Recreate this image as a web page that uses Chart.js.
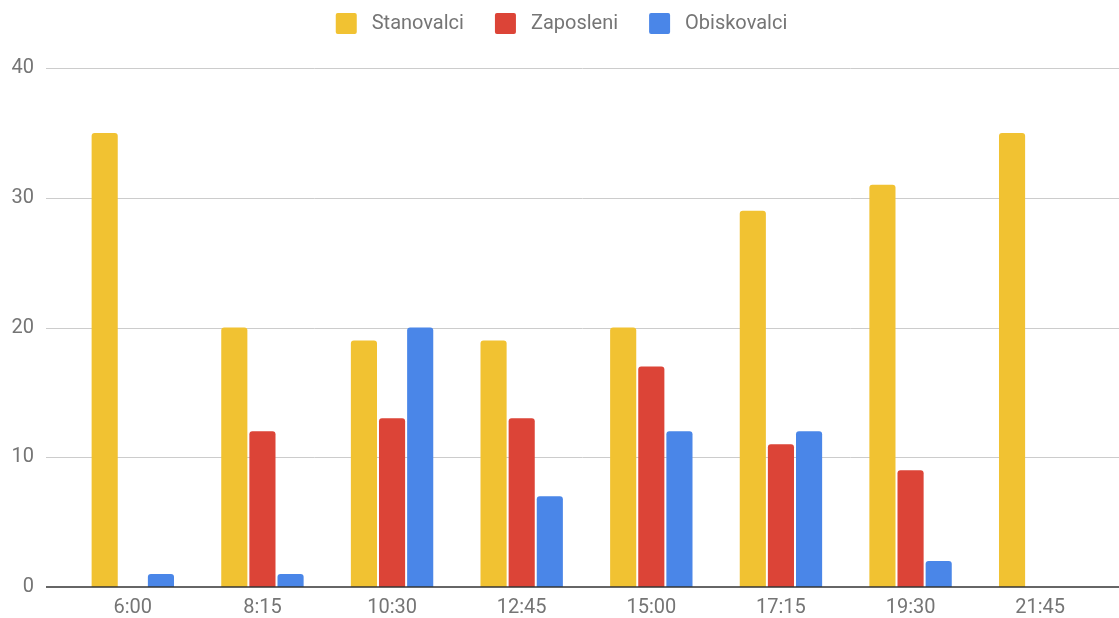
<!DOCTYPE html>
<html>
<head>
<meta charset="utf-8">
<script src="https://cdn.jsdelivr.net/npm/chart.js@4.4.1/dist/chart.umd.min.js"></script>
<style>
  html, body { margin: 0; padding: 0; background: #fff; }
  #wrap { width: 1119px; height: 618px; position: relative; }
</style>
</head>
<body>
<div id="wrap"><canvas id="c" width="1119" height="618"></canvas></div>
<script>
const categories = ['6:00', '8:15', '10:30', '12:45', '15:00', '17:15', '19:30', '21:45'];
const stanovalci = [35, 20, 19, 19, 20, 29, 31, 35];
const zaposleni = [0, 12, 13, 13, 17, 11, 9, 0];
const obiskovalci = [1, 1, 20, 7, 12, 12, 2, 0];
const yTicks = [0, 10, 20, 30, 40];

const FONT = 'Roboto, "Noto Sans", sans-serif';
const TXT = '#757575';

const gridPlugin = {
  id: 'extGrid',
  beforeDatasetsDraw(chart) {
    const ctx = chart.ctx, y = chart.scales.y;
    ctx.save();
    ctx.strokeStyle = '#cccccc';
    ctx.lineWidth = 1;
    yTicks.forEach(v => {
      if (v === 0) return;
      const py = Math.round(y.getPixelForValue(v)) + 0.5;
      ctx.beginPath(); ctx.moveTo(46, py); ctx.lineTo(chart.width, py); ctx.stroke();
    });
    ctx.restore();
  },
  afterDatasetsDraw(chart) {
    const ctx = chart.ctx, y = chart.scales.y;
    ctx.save();
    ctx.strokeStyle = '#333333';
    ctx.lineWidth = 1.5;
    const py = y.getPixelForValue(0);
    ctx.beginPath(); ctx.moveTo(46, py); ctx.lineTo(chart.width, py); ctx.stroke();
    ctx.restore();
  },
  afterInit(chart) {
    const lg = chart.legend;
    if (lg) {
      const f = lg.fit.bind(lg);
      lg.fit = function () { f(); this.height = 68; };
      const d = lg.draw.bind(lg);
      lg.draw = function () {
        const ctx = chart.ctx;
        ctx.save(); ctx.translate(9, -18); d(); ctx.restore();
      };
    }
  }
};

new Chart(document.getElementById('c'), {
  type: 'bar',
  data: {
    labels: categories,
    datasets: [
      { label: 'Stanovalci', data: stanovalci, backgroundColor: '#f1c232' },
      { label: 'Zaposleni', data: zaposleni, backgroundColor: '#dc4437' },
      { label: 'Obiskovalci', data: obiskovalci, backgroundColor: '#4a86e8' }
    ]
  },
  options: {
    responsive: false,
    animation: false,
    devicePixelRatio: 1,
    layout: { padding: { left: 0, right: 14, top: 0, bottom: 0 } },
    datasets: {
      bar: { categoryPercentage: 0.651, barPercentage: 0.929, borderRadius: 3, borderSkipped: 'start' }
    },
    plugins: {
      tooltip: { enabled: false },
      legend: {
        position: 'top',
        align: 'center',
        labels: {
          font: { family: FONT, size: 20 },
          color: TXT,
          boxWidth: 21,
          boxHeight: 21,
          padding: 31,
          generateLabels(chart) {
            const items = Chart.defaults.plugins.legend.labels.generateLabels(chart);
            items.forEach(it => { it.text = ' ' + it.text; it.lineWidth = 0; it.borderRadius = 2; });
            return items;
          }
        }
      }
    },
    scales: {
      x: {
        grid: { display: false, drawTicks: false },
        border: { display: false },
        ticks: { font: { family: FONT, size: 20 }, color: TXT, padding: 9, maxRotation: 0 },
        afterFit(s) { s.height = 31; }
      },
      y: {
        min: 0, max: 40,
        afterBuildTicks(s) { s.ticks = yTicks.map(v => ({ value: v })); },
        grid: { display: false, drawTicks: false },
        border: { display: false },
        ticks: { font: { family: FONT, size: 20 }, color: TXT, padding: 34 },
        afterFit(s) { s.width = 68; s.paddingTop = 0; s.paddingBottom = 0; }
      }
    }
  },
  plugins: [gridPlugin]
});
</script>
</body>
</html>
